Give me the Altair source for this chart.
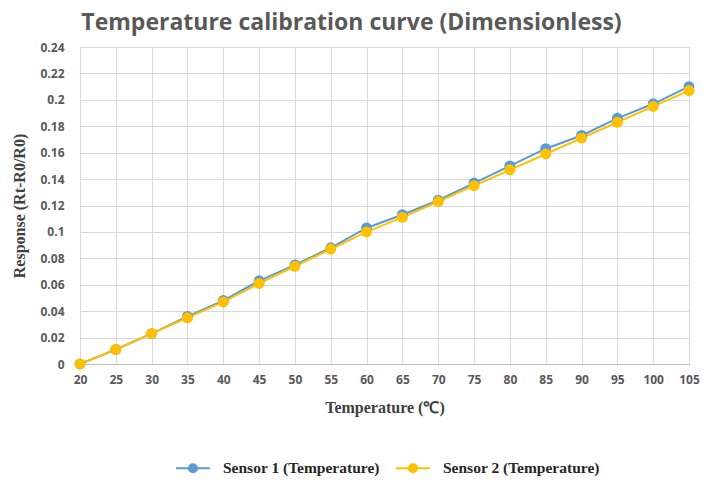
import altair as alt
import pandas as pd

temps = [20, 25, 30, 35, 40, 45, 50, 55, 60, 65, 70, 75, 80, 85, 90, 95, 100, 105]
sensor1 = [0.0, 0.011, 0.023, 0.036, 0.048, 0.063, 0.075, 0.088, 0.103, 0.113,
           0.124, 0.137, 0.150, 0.163, 0.173, 0.186, 0.197, 0.210]
sensor2 = [0.0, 0.011, 0.023, 0.035, 0.047, 0.061, 0.074, 0.087, 0.100, 0.111,
           0.123, 0.135, 0.147, 0.159, 0.171, 0.183, 0.195, 0.207]
series_names = ["Sensor 1 (Temperature)", "Sensor 2 (Temperature)"]
series_colors = ["#5B9BD5", "#FFC000"]
y_ticks = [0, 0.02, 0.04, 0.06, 0.08, 0.1, 0.12, 0.14, 0.16, 0.18, 0.2, 0.22, 0.24]

rows = []
for i, t in enumerate(temps):
    rows.append({"Temperature": t, "Response": sensor1[i], "Series": series_names[0], "order": 0})
for i, t in enumerate(temps):
    rows.append({"Temperature": t, "Response": sensor2[i], "Series": series_names[1], "order": 1})
df = pd.DataFrame(rows)

sym = "M-1,0L1,0M0.24,0A0.24,0.24,0,1,1,-0.24,0A0.24,0.24,0,1,1,0.24,0Z"

x_enc = alt.X(
    "Temperature:Q",
    scale=alt.Scale(domain=[20, 105], nice=False, zero=False),
    axis=alt.Axis(
        values=temps, title="Temperature (℃)", grid=True, ticks=False,
        labelFlush=False, labelOverlap=False,
        labelFont="Open Sans", labelFontWeight="bold", labelFontSize=12,
        labelColor="#595959", labelPadding=10,
        titleFont="Liberation Serif", titleFontWeight="bold", titleFontSize=16,
        titleColor="#404040", titlePadding=14,
        gridColor="#d9d9d9", domainColor="#bfbfbf",
    ),
)
y_enc = alt.Y(
    "Response:Q",
    scale=alt.Scale(domain=[0, 0.24], nice=False),
    axis=alt.Axis(
        values=y_ticks, format=".2~f", title="Response (Rt-R0/R0)", grid=True,
        ticks=False, domain=False,
        labelFont="Open Sans", labelFontWeight="bold", labelFontSize=12,
        labelColor="#595959", labelPadding=16,
        titleFont="Liberation Serif", titleFontWeight="bold", titleFontSize=16,
        titleColor="#404040", titlePadding=12,
        gridColor="#d9d9d9",
    ),
)
color_enc = alt.Color(
    "Series:N",
    scale=alt.Scale(domain=series_names, range=series_colors),
    legend=alt.Legend(
        title=None, orient="none", direction="horizontal",
        legendX=95, legendY=403,
        symbolType=sym, symbolSize=1150, symbolStrokeWidth=2,
        labelFont="Liberation Serif", labelFontWeight="bold", labelFontSize=15.5,
        labelColor="#262626", labelOffset=12, columnPadding=12,
    ),
)

base = alt.Chart(df).encode(x=x_enc, y=y_enc, color=color_enc, detail="Series:N", order="order:Q")
lines = base.mark_line(strokeWidth=2)
points = base.mark_point(filled=True, size=120, opacity=1)

chart = alt.layer(lines, points).properties(
    width=609, height=317,
    title=alt.TitleParams(
        "Temperature calibration curve (Dimensionless)",
        font="Open Sans", fontWeight="bold", fontSize=23, color="#595959",
        anchor="middle", dx=-33, offset=6,
    ),
    autosize=alt.AutoSizeParams(type="none"),
    padding={"left": 72, "top": 39, "right": 11, "bottom": 113},
).configure_view(stroke=None)

chart.save("out.html", embed_options={"renderer": "svg", "actions": False})
